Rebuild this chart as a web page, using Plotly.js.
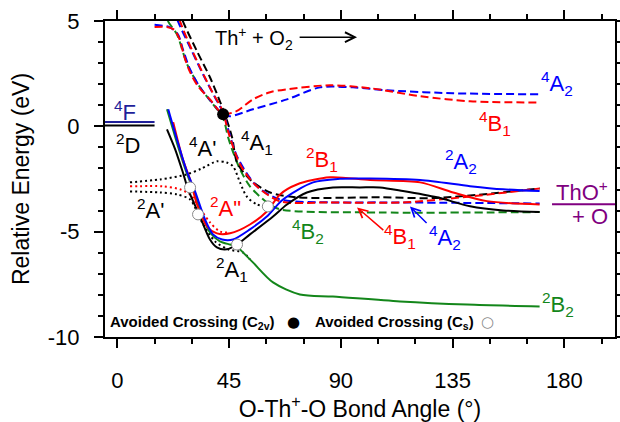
<!DOCTYPE html>
<html>
<head>
<meta charset="utf-8">
<script src="https://cdn.plot.ly/plotly-3.0.1.min.js"></script>
<style>html,body{margin:0;padding:0;background:#fff;}#chart{width:620px;height:422px;}</style>
</head>
<body>
<div id="chart"></div>
<script>
// ---- data ----
const atomX = [-5, 15];
const level4F = [0.2, 0.2];
const level2D = [0.04, 0.04];

// quartet (dashed) curves
const q4B1upX = [15, 20, 23, 25, 27, 29.3, 32.5, 37.3, 42.5, 48, 54.6, 61.5, 68.3, 85.6, 101.7, 121.9, 142, 170];
const q4B1upY = [4.72, 4.72, 4.58, 4.15, 3.3, 2.57, 1.9, 1.28, 0.6, 0.72, 1.28, 1.62, 1.76, 1.95, 1.81, 1.43, 1.19, 1.13];
const q4A2upX = [15, 21.2, 24.4, 26.4, 29.3, 33.3, 38.1, 42.5, 45.4, 54.6, 68.3, 81.6, 94.9, 108.6, 135.2, 170];
const q4A2upY = [4.82, 4.7, 4.37, 3.66, 2.7, 1.85, 1.14, 0.57, 0.48, 0.81, 1.28, 1.85, 1.85, 1.71, 1.57, 1.52];
const q4B1loX = [23.5, 25.2, 28.5, 33.3, 38.1, 42.5, 44.6, 49.4, 55.4, 65.5, 85.6, 115, 142, 170];
const q4B1loY = [5.6, 5.0, 4.04, 2.8, 1.66, 0.71, -0.24, -1.8, -2.76, -3.56, -3.61, -3.61, -3.33, -2.95];
const q4A2loX = [22.8, 24.4, 29.3, 34.5, 39.3, 42.5, 48.2, 56.2, 65.5, 85.6, 105.7, 170];
const q4A2loY = [5.6, 4.99, 3.75, 2.47, 1.38, 0.67, -1.43, -2.85, -3.47, -3.61, -3.61, -3.66];
const q4A1X = [24.9, 26.4, 32.1, 37.3, 41.3, 43.3, 46.2, 48.2, 53.4, 61.5, 72.3, 105.7, 128.7, 170];
const q4A1Y = [5.56, 4.99, 3.56, 2.33, 1.19, 0.57, -0.52, -1.71, -2.52, -3.14, -3.37, -3.37, -3.4, -2.95];
const q4B2X = [19.2, 20.4, 24, 28.1, 33.3, 38.5, 42.5, 44.6, 46.2, 49.4, 53.4, 60.2, 65.5, 105.7, 170];
const q4B2Y = [5.56, 4.99, 4.37, 2.95, 1.85, 1.05, 0.43, -0.52, -1.09, -2.04, -2.85, -3.61, -3.94, -4.09, -4.07];

// doublet (solid) curves
const d2A2X = [20.5, 22.8, 25.2, 28.0, 31.3, 35.3, 38.5, 42.2, 46.6, 53.4, 60.2, 66.7, 78.8, 89.6, 101.7, 121.9, 142, 155.3, 170];
const d2A2Y = [0.81, -0.14, -1.09, -2.14, -3.09, -4.42, -5.13, -5.37, -5.37, -4.89, -4.28, -3.47, -2.66, -2.49, -2.48, -2.55, -2.84, -2.99, -3.07];
const d2B1X = [22.5, 26.4, 29.3, 32.1, 36.1, 40.1, 45.4, 53.4, 60.2, 65.5, 72.3, 85.6, 101.7, 121.9, 135.2, 148.8, 170];
const d2B1Y = [0.2, -1.57, -2.52, -3.71, -4.75, -5.08, -5.08, -4.66, -4.04, -3.23, -2.76, -2.42, -2.55, -2.66, -3.14, -3.55, -3.71];
const d2B2X = [20.0, 22.4, 24.8, 27.7, 30.8, 34.5, 37.3, 41.3, 45.4, 48.2, 49.4, 54.6, 62.7, 73.5, 86.8, 113.8, 140.8, 170];
const d2B2Y = [0.81, -0.14, -1.09, -2.14, -3.09, -4.32, -5.04, -5.46, -5.61, -5.70, -5.84, -6.46, -7.41, -7.98, -8.08, -8.31, -8.46, -8.55];
const d2A1X = [20, 23.3, 26.4, 28.5, 33.3, 37.3, 40.1, 44.1, 48.2, 53.4, 62.7, 68.3, 76.3, 86.8, 97.6, 105.7, 115, 128.7, 142, 155.3, 170];
const d2A1Y = [-0.14, -1.09, -2.19, -2.99, -4.28, -5.37, -5.75, -5.84, -5.61, -5.13, -4.28, -3.71, -3.14, -2.90, -2.90, -2.90, -3.07, -3.37, -3.79, -3.99, -4.07];

// Cs (dotted) curves
const s4ApX = [5.1, 17.2, 28, 34, 40.1, 44, 46.6, 49.4, 52.1, 56.2, 60.6];
const s4ApY = [-2.66, -2.52, -2.28, -2.0, -1.66, -1.72, -1.9, -2.66, -3.33, -3.71, -3.80];
const s2ApX = [5.1, 17.2, 24, 29.3, 31.3, 32.5, 35.3, 39.3, 44.6, 50.7, 53.4];
const s2ApY = [-3.09, -3.14, -3.23, -3.47, -3.85, -4.18, -4.8, -5.46, -5.84, -5.99, -6.32];
const s2AppX = [5.1, 18.4, 25.2, 29.3, 34.1, 37.3, 41.3, 45.4];
const s2AppY = [-2.85, -2.85, -2.99, -3.23, -4.04, -4.56, -4.99, -5.04];

// avoided crossings
const c2vX = [42.6], c2vY = [0.57];
const csX = [29.3, 32.5, 48.2, 60.6], csY = [-2.90, -4.18, -5.61, -3.80];

const xTicks = [0, 45, 90, 135, 180];
const yTicks = [-10, -5, 0, 5];

// ---- styles ----
const RED = '#ff0000', BLUE = '#0000ff', GREEN = '#13861a', BLACK = '#000000', NAVY = '#1f1f9a', PURPLE = '#800080';
const DASH = '8px,4px', DOT = '2px,3px';
const FONT = 'Liberation Sans, Arial, sans-serif';

function ln(x, y, color, dash, w) {
  return {x: x, y: y, type: 'scatter', mode: 'lines', hoverinfo: 'skip', showlegend: false,
    line: {color: color, width: w || 2, dash: dash || 'solid', shape: 'spline', smoothing: 0.8}};
}

const traces = [
  {x: atomX, y: level4F, type: 'scatter', mode: 'lines', line: {color: NAVY, width: 2}, showlegend: false, hoverinfo: 'skip'},
  {x: atomX, y: level2D, type: 'scatter', mode: 'lines', line: {color: BLACK, width: 2}, showlegend: false, hoverinfo: 'skip'},
  ln(s4ApX, s4ApY, BLACK, DOT),
  ln(s2ApX, s2ApY, BLACK, DOT),
  ln(s2AppX, s2AppY, RED, DOT),
  ln(q4B2X, q4B2Y, GREEN, DASH),
  ln(q4A1X, q4A1Y, BLACK, DASH),
  ln(q4A2loX, q4A2loY, BLUE, DASH),
  ln(q4B1loX, q4B1loY, RED, DASH),
  ln(q4A2upX, q4A2upY, BLUE, DASH),
  ln(q4B1upX, q4B1upY, RED, DASH),
  ln(d2A1X, d2A1Y, BLACK),
  ln(d2B2X, d2B2Y, GREEN),
  ln(d2B1X, d2B1Y, RED),
  ln(d2A2X, d2A2Y, BLUE),
  {x: c2vX, y: c2vY, type: 'scatter', mode: 'markers', showlegend: false, hoverinfo: 'skip',
   marker: {size: 12, color: BLACK}},
  {x: csX, y: csY, type: 'scatter', mode: 'markers', showlegend: false, hoverinfo: 'skip',
   marker: {size: 11, color: '#ffffff', line: {color: '#8a8a8a', width: 1}}}
];

function lab(text, x, y, color, size) {
  return {text: text, x: x, y: y, xref: 'x', yref: 'y', showarrow: false,
    font: {family: FONT, size: size || 22, color: color}, xanchor: 'center', yanchor: 'middle'};
}

const annotations = [
  lab('<sup>4</sup>F', 3.1, 0.75, NAVY),
  lab('<sup>2</sup>D', 4.3, -0.86, BLACK),
  lab("<sup>4</sup>A'", 34.1, -1.0, BLACK),
  lab('<sup>4</sup>A<sub>1</sub>', 56.3, -0.76, BLACK),
  lab('<sup>2</sup>B<sub>1</sub>', 82.4, -1.57, RED),
  lab("<sup>2</sup>A'", 13.2, -3.94, BLACK),
  lab('<sup>2</sup>A"', 43.4, -3.85, RED),
  lab('<sup>2</sup>A<sub>1</sub>', 46.2, -6.79, BLACK),
  lab('<sup>4</sup>B<sub>2</sub>', 76.8, -4.99, GREEN),
  lab('<sup>2</sup>A<sub>2</sub>', 138.4, -1.66, BLUE),
  lab('<sup>4</sup>A<sub>2</sub>', 177, 2.04, BLUE),
  lab('<sup>4</sup>B<sub>1</sub>', 152, 0.14, RED),
  lab('ThO<sup>+</sup>', 187, -3.09, PURPLE),
  lab('+ O', 190.3, -4.28, PURPLE),
  lab('<sup>4</sup>B<sub>1</sub>', 113.8, -5.23, RED),
  lab('<sup>4</sup>A<sub>2</sub>', 131.9, -5.27, BLUE),
  lab('<sup>2</sup>B<sub>2</sub>', 177.4, -8.46, GREEN),
  {text: 'Th<sup>+</sup> + O<sub>2</sub>', x: 38.5, y: 4.15, xref: 'x', yref: 'y', showarrow: false,
   xanchor: 'left', yanchor: 'middle', font: {family: FONT, size: 20, color: BLACK}},
  {text: '', x: 96.5, y: 4.23, ax: 72.8, ay: 4.23, xref: 'x', yref: 'y', axref: 'x', ayref: 'y',
   showarrow: true, arrowhead: 5, arrowsize: 1.3, arrowwidth: 1.5, arrowcolor: BLACK},
  {text: '', x: 96.5, y: -3.85, ax: 107.7, ay: -4.99, xref: 'x', yref: 'y', axref: 'x', ayref: 'y',
   showarrow: true, arrowhead: 5, arrowsize: 1.2, arrowwidth: 1.5, arrowcolor: RED},
  {text: '', x: 117.8, y: -3.8, ax: 125.1, ay: -4.66, xref: 'x', yref: 'y', axref: 'x', ayref: 'y',
   showarrow: true, arrowhead: 5, arrowsize: 1.2, arrowwidth: 1.5, arrowcolor: BLUE},
  {text: '<b>Avoided Crossing (C<sub>2v</sub>)</b>', x: -3.8, y: -9.3, xref: 'x', yref: 'y', showarrow: false,
   xanchor: 'left', yanchor: 'middle', font: {family: FONT, size: 15, color: BLACK}},
  {text: '●', x: 70.8, y: -9.3, xref: 'x', yref: 'y', showarrow: false,
   xanchor: 'center', yanchor: 'middle', font: {family: 'DejaVu Sans', size: 15, color: BLACK}},
  {text: '<b>Avoided Crossing (C<sub>s</sub>)</b>', x: 78.8, y: -9.3, xref: 'x', yref: 'y', showarrow: false,
   xanchor: 'left', yanchor: 'middle', font: {family: FONT, size: 15, color: BLACK}},
  {text: '○', x: 149.2, y: -9.3, xref: 'x', yref: 'y', showarrow: false,
   xanchor: 'center', yanchor: 'middle', font: {family: 'DejaVu Sans', size: 15, color: '#8a8a8a'}}
];

const shapes = [
  {type: 'line', xref: 'x', yref: 'y', x0: 175, x1: 200.4, y0: -3.7, y1: -3.7, line: {color: PURPLE, width: 2}}
];

const axisCommon = {
  showline: true, linecolor: BLACK, linewidth: 2, mirror: 'allticks',
  ticks: 'outside', ticklen: 9, tickwidth: 2, tickcolor: BLACK,
  showgrid: false, zeroline: false,
  tickfont: {family: FONT, size: 22, color: BLACK},
  minor: {ticks: 'outside', ticklen: 5, tickwidth: 2, tickcolor: BLACK, showgrid: false}
};

const layout = {
  width: 620, height: 422,
  margin: {l: 105, r: 5, t: 21, b: 85},
  paper_bgcolor: '#ffffff', plot_bgcolor: '#ffffff',
  showlegend: false, hovermode: false,
  font: {family: FONT, color: BLACK},
  xaxis: Object.assign({}, axisCommon, {
    range: [-4.95, 200.35], tickmode: 'array', tickvals: xTicks, ticktext: xTicks.map(String),
    ticklabelstandoff: 14,
    minor: Object.assign({}, axisCommon.minor, {dtick: 15, tick0: 0}),
    title: {text: 'O-Th<sup>+</sup>-O Bond Angle (°)', font: {family: FONT, size: 23, color: BLACK}, standoff: 14}
  }),
  yaxis: Object.assign({}, axisCommon, {
    range: [-10, 5], tickmode: 'array', tickvals: yTicks, ticktext: yTicks.map(String),
    ticklabelstandoff: 10,
    minor: Object.assign({}, axisCommon.minor, {dtick: 1, tick0: 0}),
    title: {text: 'Relative Energy (eV)', font: {family: FONT, size: 23, color: BLACK}, standoff: 12}
  }),
  annotations: annotations,
  shapes: shapes
};

Plotly.newPlot('chart', traces, layout, {staticPlot: true, displayModeBar: false});
</script>
</body>
</html>
